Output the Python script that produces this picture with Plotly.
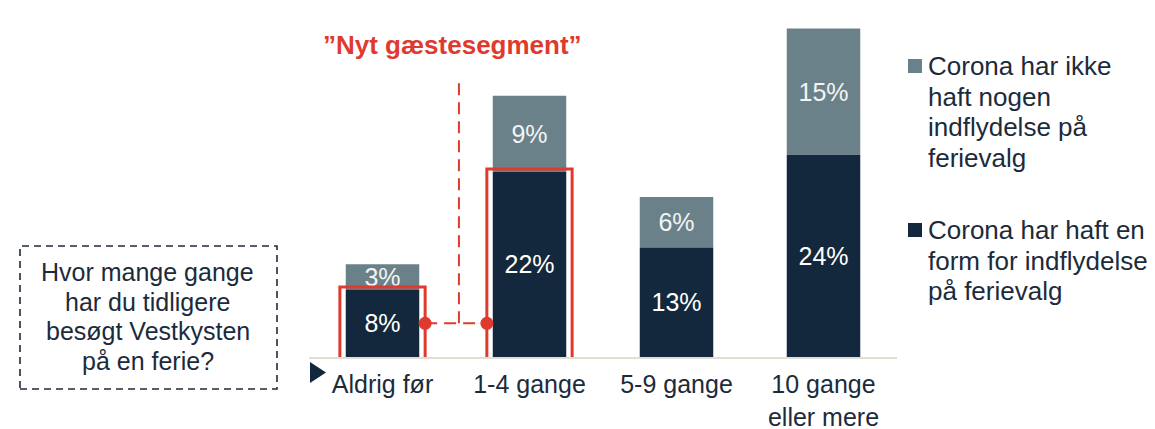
import plotly.graph_objects as go

# ---- data -------------------------------------------------------------
categories = ["Aldrig før", "1-4 gange", "5-9 gange", "10 gange<br>eller mere"]
influenced = [8, 22, 13, 24]          # Corona har haft en form for indflydelse
not_influenced = [3, 9, 6, 15]        # Corona har ikke haft nogen indflydelse
highlighted = [0, 1]                  # categories framed as the new guest segment

legend_not_infl = ["Corona har ikke", "haft nogen", "indflydelse på", "ferievalg"]
legend_infl = ["Corona har haft en", "form for indflydelse", "på ferievalg"]
question_lines = ["Hvor mange gange", "har du tidligere", "besøgt Vestkysten", "på en ferie?"]
callout_title = "”Nyt gæstesegment”"

# ---- styling ----------------------------------------------------------
W, H = 1155, 429
ML, MR, MT, MB = 309, 258, 20, 72
DARK = "#13283c"
GREY = "#6b8189"
RED = "#e03a2f"
TEXT = "#1c2b3b"
FONT = "Arial, Liberation Sans, sans-serif"
FS = 25

PW, PH = W - ML - MR, H - MT - MB


def px(xp):
    return (xp - ML) / PW


def py(yp):
    return (H - MB - yp) / PH


fig = go.Figure()

# upper segment (drawn first so the lower segment sits on top of overflowing text)
fig.add_trace(go.Bar(
    x=categories, y=not_influenced, base=influenced, width=0.5,
    marker=dict(color=GREY, line=dict(width=0)),
    text=[f"{v}%" for v in not_influenced], textposition="inside",
    insidetextanchor="middle",
    textfont=dict(color="#f2f4f5", size=FS, family=FONT),
    name="Corona har ikke haft nogen indflydelse på ferievalg",
    hoverinfo="skip", showlegend=False,
))
fig.add_trace(go.Bar(
    x=categories, y=influenced, width=0.5,
    marker=dict(color=DARK, line=dict(width=0)),
    text=[f"{v}%" for v in influenced], textposition="inside",
    insidetextanchor="middle",
    textfont=dict(color="white", size=FS, family=FONT),
    name="Corona har haft en form for indflydelse på ferievalg",
    hoverinfo="skip", showlegend=False,
))

shapes = []
annotations = []

# red frames around the highlighted stacks
pad_x = 0.29
for i in highlighted:
    shapes.append(dict(
        type="rect", xref="x", yref="y", layer="above",
        x0=i - pad_x, x1=i + pad_x, y0=-0.8, y1=influenced[i] + 0.3,
        line=dict(color=RED, width=3), fillcolor="rgba(0,0,0,0)",
    ))

# connector between the two frames
a, b = highlighted
y_conn = influenced[a] / 2
x_left, x_right = a + pad_x, b - pad_x
x_mid = (x_left + x_right) / 2 + 0.02
shapes.append(dict(type="line", xref="x", yref="y", layer="above",
                   x0=x_left, x1=x_right, y0=y_conn, y1=y_conn,
                   line=dict(color=RED, width=2, dash="12px,7px")))
shapes.append(dict(type="line", xref="x", yref="y", layer="above",
                   x0=x_mid, x1=x_mid, y0=y_conn, y1=32.9,
                   line=dict(color=RED, width=2, dash="12px,7px")))
fig.add_trace(go.Scatter(
    x=[x_left, x_right], y=[y_conn, y_conn], mode="markers",
    marker=dict(color=RED, size=13, line=dict(width=0)),
    xaxis="x2", hoverinfo="skip", showlegend=False, cliponaxis=False,
))

annotations.append(dict(
    xref="paper", yref="paper", x=px(452), y=py(45), text=f"<b>{callout_title}</b>",
    showarrow=False, xanchor="center", yanchor="middle",
    font=dict(color=RED, size=26, family=FONT),
))

# dashed question box
shapes.append(dict(
    type="rect", xref="paper", yref="paper",
    x0=px(20), x1=px(277), y0=py(389), y1=py(246),
    line=dict(color=TEXT, width=1.6, dash="7px,5px"), fillcolor="rgba(0,0,0,0)",
))
for k, line in enumerate(question_lines):
    annotations.append(dict(
        xref="paper", yref="paper", x=px(148), y=py(272 + 29.7 * k), text=line,
        showarrow=False, xanchor="center", yanchor="middle",
        font=dict(color=TEXT, size=FS, family=FONT),
    ))

# axis arrow head
shapes.append(dict(
    type="path", xref="paper", yref="paper",
    path=f"M {px(310)},{py(362)} L {px(326)},{py(372.5)} L {px(310)},{py(383)} Z",
    fillcolor=DARK, line=dict(width=0),
))

# legend
def legend_block(lines, color, y0):
    shapes.append(dict(
        type="rect", xref="paper", yref="paper",
        x0=px(908), x1=px(922), y0=py(y0 + 7), y1=py(y0 - 7),
        fillcolor=color, line=dict(width=0),
    ))
    for k, line in enumerate(lines):
        annotations.append(dict(
            xref="paper", yref="paper", x=px(926), y=py(y0 + 30.5 * k), text=line,
            showarrow=False, xanchor="left", yanchor="middle",
            font=dict(color=TEXT, size=26, family=FONT),
        ))


legend_block(legend_not_infl, GREY, 66)
legend_block(legend_infl, DARK, 230)

fig.update_layout(
    width=W, height=H,
    margin=dict(l=ML, r=MR, t=MT, b=MB, pad=0, autoexpand=False),
    paper_bgcolor="white", plot_bgcolor="white",
    barmode="overlay", bargap=0.5,
    uniformtext=dict(mode=False),
    font=dict(family=FONT, color=TEXT, size=FS),
    xaxis=dict(
        type="category", range=[-0.5, 3.5], showgrid=False, zeroline=False,
        showline=True, linecolor="#e3ded3", linewidth=2,
        ticks="", tickfont=dict(size=FS, color=TEXT, family=FONT),
        ticklabelstandoff=4, automargin=False,
    ),
    xaxis2=dict(overlaying="x", range=[-0.5, 3.5], visible=False),
    yaxis=dict(range=[0, 40], visible=False, showgrid=False, zeroline=False,
               automargin=False),
    shapes=shapes, annotations=annotations,
    showlegend=False,
)
fig.update_traces(constraintext="none", selector=dict(type="bar"))

fig.write_html("out.html")
